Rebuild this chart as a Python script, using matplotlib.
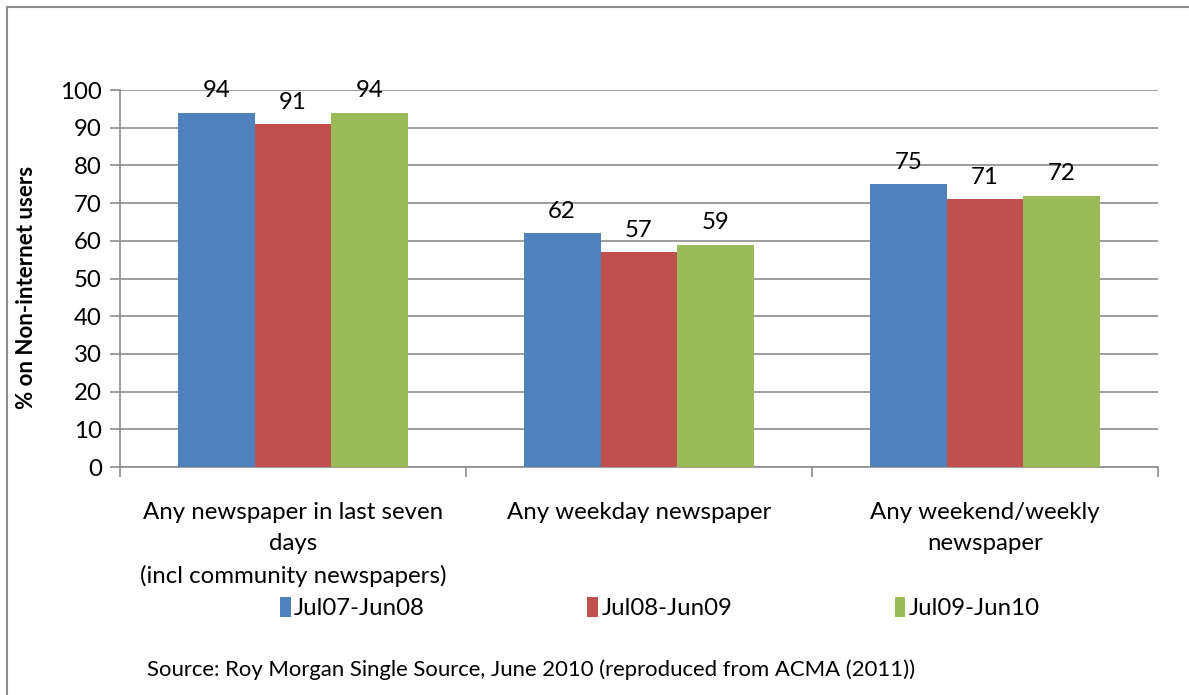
# Newspaper readership among non-internet users

import numpy as np
import matplotlib.pyplot as plt
from matplotlib.patches import Rectangle

plt.rcParams['font.family'] = ['Lato', 'DejaVu Sans']

# Data
categories = ["Any newspaper in last seven\ndays\n(incl community newspapers)",
              "Any weekday newspaper",
              "Any weekend/weekly\nnewspaper"]
series = ["Jul07-Jun08", "Jul08-Jun09", "Jul09-Jun10"]
values = [[94, 62, 75],
          [91, 57, 71],
          [94, 59, 72]]
colors = ["#4f81bd", "#c0504d", "#9bbb59"]

fig = plt.figure(figsize=(11.89, 6.95), dpi=100)
ax = fig.add_axes([0.1009, 0.328, 0.873, 0.5425])

# outer frame
fig.patches.append(Rectangle((7/1189, -0.1), 1.2, 1 - 7/695 + 0.1,
                             transform=fig.transFigure, fill=False,
                             edgecolor="#8c8c8c", linewidth=1.5))

fs = 17.3
x = np.arange(len(categories))
w = 0.222
for i, (name, vals) in enumerate(zip(series, values)):
    pos = x + (i - 1) * w
    ax.bar(pos, vals, width=w, color=colors[i], label=name, zorder=3)
    for p, v in zip(pos, vals):
        ax.text(p, v + 3, str(v), ha="center", va="bottom", fontsize=fs, zorder=4)

ax.set_xlim(-0.5, 2.5)
ax.set_ylim(0, 100)
ax.set_yticks(range(0, 101, 10))
ax.yaxis.grid(True, color="#8c8c8c", linewidth=1.2, zorder=0)
ax.tick_params(axis="y", labelsize=fs, length=7, color="#8c8c8c", width=1.2, pad=6)
ax.set_xticks([-0.5, 0.5, 1.5, 2.5])
ax.set_xticklabels([])
ax.tick_params(axis="x", length=7, color="#8c8c8c", width=1.2)
for c, lab in zip(x, categories):
    ax.text(c, -9.2, lab, ha="center", va="top", fontsize=fs,
            transform=ax.transData, linespacing=1.6)

for s in ["top", "right"]:
    ax.spines[s].set_visible(False)
for s in ["left", "bottom"]:
    ax.spines[s].set_color("#8c8c8c")
    ax.spines[s].set_linewidth(1.2)

ax.set_ylabel("% on Non-internet users", fontsize=16, fontweight="bold")
ax.yaxis.set_label_coords(-0.08, 0.477)

fig.legend(loc="center", bbox_to_anchor=(0.555, 0.125), ncol=3, frameon=False,
           fontsize=fs, handlelength=0.45, handleheight=0.9, handletextpad=0.15,
           columnspacing=6.75)

fig.text(147/1189, 1 - 670/695, "Source: Roy Morgan Single Source, June 2010 (reproduced from ACMA (2011))",
         fontsize=15.9, va="center", ha="left")

fig.savefig("out.png", dpi=100)
